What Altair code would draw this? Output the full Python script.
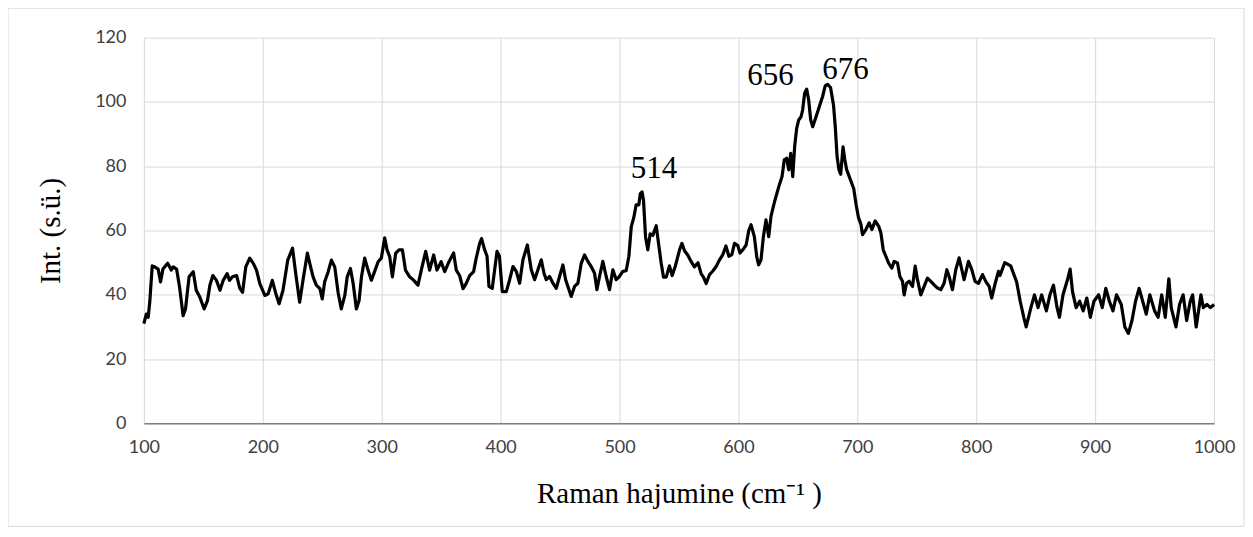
import altair as alt
import pandas as pd

# Raman shift (cm-1)
wavenumber = [
    100, 102, 103.6, 105, 107, 109, 112, 114, 116, 120, 123, 124.6, 127.5, 130, 133, 135, 138, 141.5, 144, 147,
    150.7, 153.5, 155.5, 158, 161, 164, 166.7, 170, 172, 174.5, 178, 180.7, 183, 185.7, 189, 192, 194.7, 197.5,
    201.7, 204.5, 208, 211, 213.7, 217, 221, 225, 227.7, 231, 234, 237.5, 240,
    242.3, 245, 248, 250, 252, 255, 257.7, 260.5, 263.3, 266, 269, 271, 273.7, 276, 278.7, 281, 283, 285.7, 288.5,
    291.3, 294, 297, 299.7, 302.5, 304.5, 306.7, 309, 311.8, 314.6, 317.4, 320, 323.5, 327, 330.5, 333.3, 337,
    340.3, 343.7, 346.5, 350, 353, 356.6, 360.5, 362.7, 365.5, 368.4, 371, 374, 377.3, 379.5, 382.4, 384,
    386.6, 388.6, 390.2, 393, 395, 397, 399, 401.4, 404.8, 407.6, 410.4, 413.2, 416, 418.8, 422.5, 425.8, 428.6,
    431.4, 434.2, 436.5, 438.4, 441.2, 444, 446.8, 449.6, 452.4, 454.7, 457.5, 459.4, 462.2, 465, 467.8, 470.6,
    473.4, 476.2, 479, 481, 483.2, 486, 488.8, 491.6, 494.4, 497.2, 500, 502.8, 505.6,
    507.9, 509.9, 512, 514, 516.3, 517.5, 519, 520.2, 521.9, 523.8, 525.8, 528, 530.9, 533, 535, 537, 539.3, 542,
    544.3, 547, 550.5, 552.5, 554.7, 557.5, 560.3, 563, 566, 568.7, 570.6, 572.9, 575.7, 578.5, 581.3, 584, 586.9,
    589.5, 592, 594.5, 596.7, 599.5, 601.4, 603.7, 606.5, 608.7, 610.6, 613.4, 615.4, 617, 619, 621, 623.2, 625.5,
    627.4, 629.4, 631.6, 634.4, 636.7, 638.6, 640.6, 642.3, 644, 645.7, 647.3, 649, 650.7, 652.7, 654, 655.7, 657.4,
    659.1, 660.8, 662.5, 665.3, 668, 670.8, 673, 675, 677.5, 680, 681.5, 683, 684.5, 686, 688, 689.5, 691, 693, 695,
    697, 699, 701, 703, 704.4, 707.2, 710, 712.3, 715, 717.9, 719.8, 721.8, 724, 726.3, 729, 731, 733.8, 735.8, 738,
    739.4, 741.4, 743.6, 746.4, 748.7, 750.6, 753.4, 756.2, 759, 761.8, 764.6, 767.4, 770.2, 773, 775.3, 777.2, 780,
    782.8, 785.6, 787.9, 789.8, 793.5, 796.3, 799, 801.9, 805.3, 808, 810.9, 813, 816, 818.7,
    820, 824, 829, 834, 837, 840, 842, 846, 849, 852, 855, 859, 862, 865, 868, 870, 873, 877, 879, 881, 884, 887,
    890, 893, 896, 899, 903, 906, 909, 912, 915, 918, 922, 925, 928, 931, 934, 937, 940, 943, 946, 950, 953, 956,
    959, 962, 964, 968, 971, 974, 977, 980, 982, 985, 987, 989, 991, 994, 997, 1000,
]

# Intensity (arb. units)
intensity = [
    31, 34, 33, 38, 49, 48.7, 48, 44, 48, 49.8, 47.7, 48.7, 48, 42.4, 33.5, 35.6, 45.6, 47.2, 41.4, 39.3,
    35.6, 38.2, 43, 46, 44.5, 41.4, 44.5, 46.6, 44.5, 45.6, 46, 42, 40.8, 48.7, 51.4, 49.8, 47.7, 43.5,
    39.8, 40.3, 44.5, 40.3, 37.2, 41.4, 50.8, 54.5, 46.6, 37.7, 45, 53, 49,
    45.6, 43, 41.9, 38.7, 44, 47.2, 50.8, 48.7, 40.8, 35.6, 39.8, 45.6, 48.2, 43.5, 35.6, 38.2, 45.6, 51.4, 47.7,
    44.5, 47.2, 50.3, 51.4, 57.7, 54, 51.9, 45.6, 53, 54, 54, 47.7, 45.6, 44.5, 43, 47.7, 53.5,
    47.7, 52.4, 47.7, 50.3, 47.2, 50.3, 53, 47.7, 46, 41.9, 43.5, 46, 47.2, 51.4, 56, 57.5,
    54, 52, 42.6, 42, 47.8, 53.5, 52, 41, 41, 44.7, 48.8, 47.3, 43.6, 50.9, 55.5, 47.8, 44.7,
    47.8, 50.9, 46.7, 44.7, 45.7, 43.6, 42, 45.7, 49.3, 44.7, 41.6, 39.5, 42.6, 43.6, 49.8, 52.4,
    50.4, 48.8, 46.7, 41.6, 45.7, 50.4, 45.7, 41.6, 47.8, 44.7, 45.7, 47.3, 47.5,
    52, 61.2, 64, 68, 68, 71.5, 72, 69.3, 58, 54, 59, 58.5, 61.5, 55.5, 50, 45.5, 45.5, 49,
    46, 49, 54, 56, 53.7, 52.3, 50.3, 48.7, 50, 46.5, 45.5, 43.5, 46.3, 47.4, 48.8, 50.8, 52.5,
    55.2, 52, 52.5, 56, 55.3, 53, 54, 55.5, 60, 61.8, 58.1, 51.9, 49.3, 50.9, 58.1, 63.3, 58.1,
    64.4, 67.5, 70.6, 74.2, 76.8, 82, 82.5, 78.9, 84, 76.8, 86.1, 91.8, 94.4, 95.4, 97.5, 102.7, 104,
    100.6, 94.4, 92.3, 95.4, 98.5, 101.7, 105, 105.5, 104.5, 99, 92, 83, 79, 77.5, 86, 82, 79, 77, 75,
    73, 68, 64, 62, 58.7, 60.3, 62.4, 60.3, 63, 61.4, 59.3, 54, 52, 49.9, 48.3, 50.4, 49.9, 45.7, 44.2,
    40, 43.6, 44.2, 42.6, 48.9, 44.7, 40, 42.6, 45.2, 44.2, 43.1, 42.1, 41.6, 43.6, 47.8, 45.7, 41.6,
    47.8, 51.5, 47.8, 44.7, 50.4, 47.8, 44.2, 43.6, 46.3, 44.2, 42.6, 39, 43.6, 47.3,
    46, 50, 49, 44, 38, 33, 30, 36, 40, 36, 40, 35, 40, 43, 36, 33, 40, 45, 48, 41, 36, 38,
    35, 39, 33, 38, 40, 36, 42, 38, 35, 40, 37, 30, 28, 32, 38, 42, 38, 34, 40, 35, 33, 40,
    33, 45, 36, 30, 37, 40, 32, 38, 40, 30, 35, 40, 36, 37, 36, 37,
]

# Peak annotations
peak_labels = ["514", "656", "676"]
peak_label_x = [529, 627, 690]
peak_label_y = [79, 108, 110]

x_ticks = [100, 200, 300, 400, 500, 600, 700, 800, 900, 1000]
y_ticks = [0, 20, 40, 60, 80, 100, 120]

spec = pd.DataFrame({"x": wavenumber, "y": intensity})
ann = pd.DataFrame({"label": peak_labels, "x": peak_label_x, "y": peak_label_y})

W, H = 1071, 386

x_scale = alt.Scale(domain=[100, 1000], nice=False, zero=False)
y_scale = alt.Scale(domain=[0, 120], nice=False)

x_axis = alt.Axis(
    values=x_ticks, format="d", grid=True, gridColor="#d9d9d9", gridWidth=1, ticks=False,
    domainColor="#7f7f7f", domainWidth=1.5, labelFont="Lato", labelFontSize=18,
    labelColor="#404040", labelPadding=15, labelFlush=False, labelOverlap=False,
    title="Raman hajumine (cm⁻¹ )",
    titleFont="Liberation Serif", titleFontSize=29, titleFontWeight="normal",
    titleColor="#000000", titleX=W / 2, titleY=70, titleBaseline="middle", titleAlign="center",
)
y_axis = alt.Axis(
    values=y_ticks, grid=True, gridColor="#d9d9d9", gridWidth=1, ticks=False,
    domain=False, labelFont="Lato", labelFontSize=18, labelColor="#404040",
    labelPadding=18, labelOverlap=False, title="Int. (s.ü.)", titleFont="Liberation Serif",
    titleFontSize=29, titleFontWeight="normal", titleColor="#000000",
    titleX=-93, titleY=H / 2, titleAngle=-90, titleBaseline="middle", titleAlign="center",
)

line = alt.Chart(spec).mark_line(color="#000000", strokeWidth=3.2, strokeJoin="round").encode(
    x=alt.X("x:Q", scale=x_scale, axis=x_axis),
    y=alt.Y("y:Q", scale=y_scale, axis=y_axis),
)

labels = alt.Chart(ann).mark_text(
    font="Liberation Serif", fontSize=31, color="#000000", baseline="middle", align="center"
).encode(
    x=alt.X("x:Q", scale=x_scale),
    y=alt.Y("y:Q", scale=y_scale),
    text="label:N",
)

frame = alt.Chart(pd.DataFrame({"k": [0]})).mark_rect(
    fill=None, stroke="#d9d9d9", strokeWidth=1
).encode(
    x=alt.value(-136), x2=alt.value(W + 30), y=alt.value(-29.5), y2=alt.value(H + 103)
)

chart = alt.layer(line, labels, frame).properties(
    width=W, height=H,
    autosize=alt.AutoSizeParams(type="none"),
    padding={"left": 136, "top": 29.5, "right": 31, "bottom": 104},
    background="#ffffff",
).configure_view(stroke=None)

chart.save("out.html", embed_options={"renderer": "svg", "actions": False})
